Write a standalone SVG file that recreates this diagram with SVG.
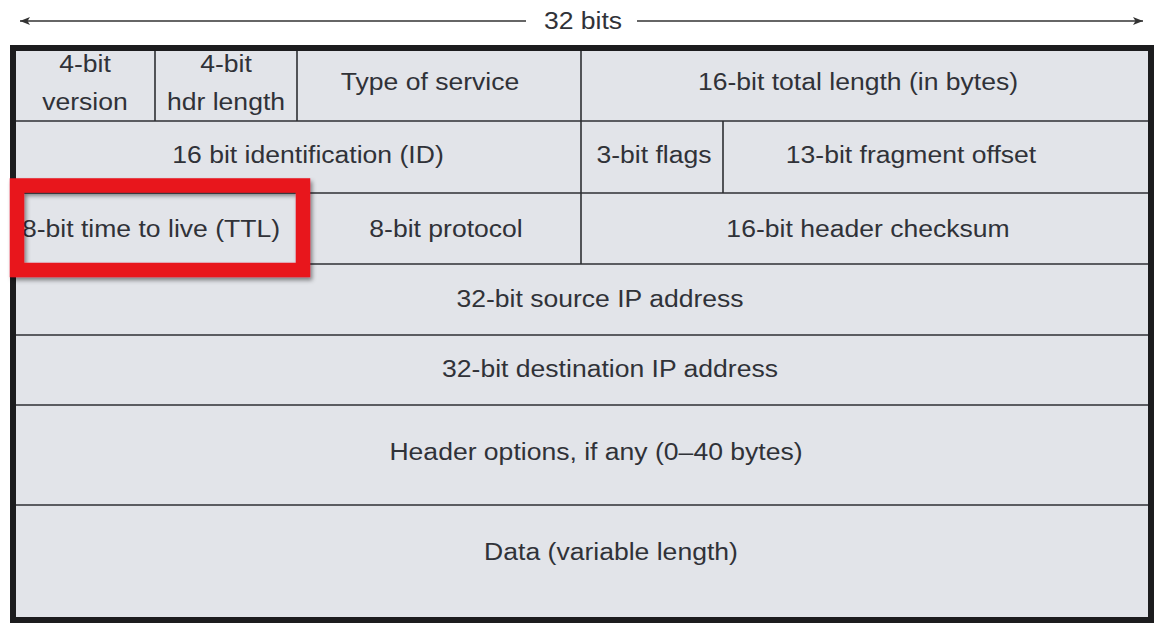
<svg xmlns="http://www.w3.org/2000/svg" width="1163" height="631" viewBox="0 0 1163 631">
  <style>
    .cell { fill: #e2e4e9; }
    .grid { stroke: #2e2f33; stroke-width: 1.6; fill: none; }
    .frame { stroke: #1c1c1e; stroke-width: 6; fill: none; }
    .lbl { font-family: "Liberation Sans", Arial, sans-serif; font-size: 23.5px; fill: #303238; text-anchor: middle; }
    .dim { stroke: #333; stroke-width: 1.6; fill: none; }
    .hl { stroke: #e8161c; stroke-width: 14.5; fill: none; }
  </style>
  <defs>
    <marker id="tip" viewBox="0 0 10 8" refX="10" refY="4" markerWidth="10" markerHeight="8" markerUnits="userSpaceOnUse" orient="auto-start-reverse">
      <path d="M0,0 L10,4 L0,8 L2.5,4 Z" fill="#333"/>
    </marker>
    <filter id="shadow" x="-10%" y="-10%" width="130%" height="140%">
      <feDropShadow dx="2" dy="3" stdDeviation="2" flood-color="#000" flood-opacity="0.45"/>
    </filter>
  </defs>

  <rect width="1163" height="631" fill="#ffffff"/>

  <!-- width dimension: 32 bits -->
  <g id="width-arrow">
    <line class="dim" x1="526" y1="21" x2="20" y2="21" marker-end="url(#tip)"/>
    <line class="dim" x1="637" y1="21" x2="1143" y2="21" marker-end="url(#tip)"/>
    <text class="lbl" transform="translate(583,29) scale(1.13,1)">32 bits</text>
  </g>

  <!-- header body -->
  <rect class="cell" x="13" y="48" width="1138" height="572"/>

  <!-- field separators -->
  <g id="grid" class="grid">
    <line x1="16" y1="121" x2="1148" y2="121"/>
    <line x1="16" y1="193" x2="1148" y2="193"/>
    <line x1="16" y1="264" x2="1148" y2="264"/>
    <line x1="16" y1="335" x2="1148" y2="335"/>
    <line x1="16" y1="405" x2="1148" y2="405"/>
    <line x1="16" y1="505" x2="1148" y2="505"/>
    <line x1="155" y1="48" x2="155" y2="121"/>
    <line x1="297" y1="48" x2="297" y2="121"/>
    <line x1="297" y1="193" x2="297" y2="264"/>
    <line x1="581" y1="48" x2="581" y2="264"/>
    <line x1="723" y1="121" x2="723" y2="193"/>
  </g>

  <rect class="frame" x="13" y="48" width="1138" height="572"/>

  <!-- row 1 -->
  <g id="version"><text class="lbl" transform="translate(85,72) scale(1.13,1)">4-bit</text><text class="lbl" transform="translate(85,110) scale(1.13,1)">version</text></g>
  <g id="hdr-length"><text class="lbl" transform="translate(226,72) scale(1.13,1)">4-bit</text><text class="lbl" transform="translate(226,110) scale(1.13,1)">hdr length</text></g>
  <g id="tos"><text class="lbl" transform="translate(430,90) scale(1.13,1)">Type of service</text></g>
  <g id="total-length"><text class="lbl" transform="translate(858,90) scale(1.13,1)">16-bit total length (in bytes)</text></g>

  <!-- row 2 -->
  <g id="identification"><text class="lbl" transform="translate(308,163) scale(1.13,1)">16 bit identification (ID)</text></g>
  <g id="flags"><text class="lbl" transform="translate(654,163) scale(1.13,1)">3-bit flags</text></g>
  <g id="frag-offset"><text class="lbl" transform="translate(911,163) scale(1.13,1)">13-bit fragment offset</text></g>

  <!-- row 3 -->
  <g id="ttl"><text class="lbl" transform="translate(151,237) scale(1.13,1)">8-bit time to live (TTL)</text></g>
  <g id="protocol"><text class="lbl" transform="translate(446,237) scale(1.13,1)">8-bit protocol</text></g>
  <g id="checksum"><text class="lbl" transform="translate(868,237) scale(1.13,1)">16-bit header checksum</text></g>

  <!-- rows 4-7 -->
  <g id="src-ip"><text class="lbl" transform="translate(600,307) scale(1.13,1)">32-bit source IP address</text></g>
  <g id="dst-ip"><text class="lbl" transform="translate(610,377) scale(1.13,1)">32-bit destination IP address</text></g>
  <g id="options"><text class="lbl" transform="translate(596,460) scale(1.13,1)">Header options, if any (0–40 bytes)</text></g>
  <g id="data"><text class="lbl" transform="translate(611,560) scale(1.13,1)">Data (variable length)</text></g>

  <!-- TTL highlight -->
  <g id="ttl-highlight">
    <rect class="hl" x="17" y="185.5" width="286" height="84.5" filter="url(#shadow)"/>
  </g>
</svg>
